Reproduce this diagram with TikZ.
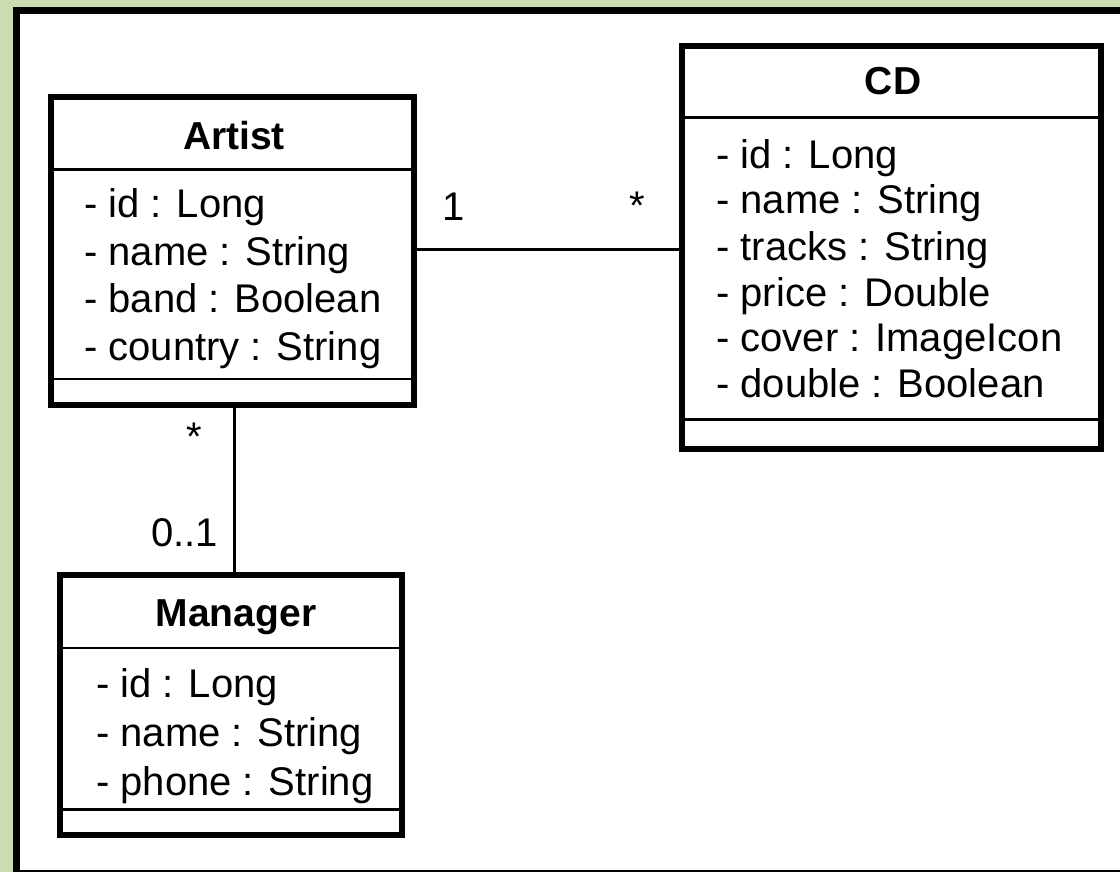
\documentclass[tikz,border=0pt]{standalone}
\usepackage{fontspec}
\setmainfont{Liberation Sans}
\definecolor{bggreen}{RGB}{201,221,176}
\tikzset{
  classbox/.style={draw=black, line width=6pt, fill=white, inner sep=0pt, rectangle},
  sepline/.style={line width=2.5pt},
  assoc/.style={line width=3pt},
  attr/.style={anchor=base west, inner sep=0pt, font=\fontsize{40}{46}\selectfont},
  title/.style={anchor=base, inner sep=0pt, font=\fontsize{39}{46}\selectfont\bfseries},
  mult/.style={inner sep=0pt, font=\fontsize{40}{46}\selectfont},
}
\begin{document}
\begin{tikzpicture}[x=1pt, y=-1pt]
  \useasboundingbox (0,0) rectangle (1120,872);
  \clip (0,0) rectangle (1120,872);
  % page background and framed panel
  \fill[bggreen] (0,0) rectangle (1120,872);
  \filldraw[fill=white, draw=black, line width=7pt] (16.5,10.5) rectangle (1130,873.5);

  % class boxes
  \node[classbox, minimum width=363pt, minimum height=308pt] (artist) at (232.5,251) {};
  \node[classbox, minimum width=419pt, minimum height=403pt] (cd) at (891.5,247.5) {};
  \node[classbox, minimum width=342pt, minimum height=260pt] (manager) at (231,705) {};

  % compartment separators
  \draw[sepline] (artist.west |- 0,169.5) -- (artist.east |- 0,169.5);
  \draw[sepline] (artist.west |- 0,379) -- (artist.east |- 0,379);
  \draw[sepline] (cd.west |- 0,117.5) -- (cd.east |- 0,117.5);
  \draw[sepline] (cd.west |- 0,419.5) -- (cd.east |- 0,419.5);
  \draw[sepline] (manager.west |- 0,648) -- (manager.east |- 0,648);
  \draw[sepline] (manager.west |- 0,809.5) -- (manager.east |- 0,809.5);

  % class names
  \node[title] (artistname) at (234,150) {Artist};
  \node[title] (cdname) at (893,95) {CD};
  \node[title] (managername) at (236,626) {Manager};

  % Artist attributes
  \node[attr] (a1) at (84,218) {- id : Long};
  \node[attr] (a2) at (84,265.3) {- name : String};
  \node[attr] (a3) at (84,312.7) {- band : Boolean};
  \node[attr] (a4) at (84,360) {- country : String};

  % CD attributes
  \node[attr] (c1) at (716,168) {- id : Long};
  \node[attr] (c2) at (716,214) {- name : String};
  \node[attr] (c3) at (716,260) {- tracks : String};
  \node[attr] (c4) at (716,306) {- price : Double};
  \node[attr] (c5) at (716,351) {- cover : ImageIcon};
  \node[attr] (c6) at (716,397) {- double : Boolean};

  % Manager attributes
  \node[attr] (m1) at (96,697) {- id : Long};
  \node[attr] (m2) at (96,746) {- name : String};
  \node[attr] (m3) at (96,795) {- phone : String};

  % associations
  \draw[assoc] ([yshift=2pt]artist.east) -- ([yshift=2pt]artist.east -| cd.west);
  \draw[assoc] ([xshift=1.5pt]artist.south) -- ([xshift=1.5pt]artist.south |- manager.north);

  % multiplicities
  \node[mult, anchor=base west] (m1lbl) at (442,221) {1};
  \node[mult] (m2lbl) at (637,206) {*};
  \node[mult] (m3lbl) at (194,437) {*};
  \node[mult, anchor=base east] (m4lbl) at (218,546) {0..1};
\end{tikzpicture}
\end{document}
